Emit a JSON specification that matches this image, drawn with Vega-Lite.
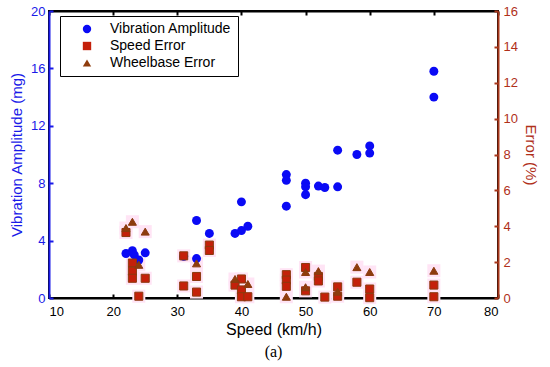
{
  "$schema": "https://vega.github.io/schema/vega-lite/v6.json",
  "width": 449,
  "height": 287,
  "autosize": {"type": "none"},
  "padding": {"left": 49, "top": 11, "right": 52, "bottom": 69},
  "background": "white",
  "config": {
    "font": "Liberation Sans",
    "view": {"stroke": "black", "strokeWidth": 2},
    "axis": {"grid": false, "labelFontSize": 13, "titleFontSize": 15, "titleFontWeight": "normal", "domainWidth": 2, "tickWidth": 2}
  },
  "title": {"text": "(a)", "orient": "bottom", "font": "Liberation Serif", "fontSize": 16, "fontWeight": "normal", "color": "black", "anchor": "middle", "offset": 7},
  "data": {
    "values": [
      {"speed": 22, "series": "Vibration Amplitude", "value": 3.1},
      {"speed": 23, "series": "Vibration Amplitude", "value": 3.3},
      {"speed": 23.3, "series": "Vibration Amplitude", "value": 3.0},
      {"speed": 24, "series": "Vibration Amplitude", "value": 2.65},
      {"speed": 25, "series": "Vibration Amplitude", "value": 3.15},
      {"speed": 31, "series": "Vibration Amplitude", "value": 2.9},
      {"speed": 33, "series": "Vibration Amplitude", "value": 5.4},
      {"speed": 33, "series": "Vibration Amplitude", "value": 2.75},
      {"speed": 35, "series": "Vibration Amplitude", "value": 4.5},
      {"speed": 39, "series": "Vibration Amplitude", "value": 4.5},
      {"speed": 40, "series": "Vibration Amplitude", "value": 4.7},
      {"speed": 40, "series": "Vibration Amplitude", "value": 6.7},
      {"speed": 41, "series": "Vibration Amplitude", "value": 5.0},
      {"speed": 47, "series": "Vibration Amplitude", "value": 8.6},
      {"speed": 47, "series": "Vibration Amplitude", "value": 8.2},
      {"speed": 47, "series": "Vibration Amplitude", "value": 6.4},
      {"speed": 50, "series": "Vibration Amplitude", "value": 8.0},
      {"speed": 50, "series": "Vibration Amplitude", "value": 7.75},
      {"speed": 50, "series": "Vibration Amplitude", "value": 7.2},
      {"speed": 52, "series": "Vibration Amplitude", "value": 7.8},
      {"speed": 53, "series": "Vibration Amplitude", "value": 7.7},
      {"speed": 55, "series": "Vibration Amplitude", "value": 7.75},
      {"speed": 55, "series": "Vibration Amplitude", "value": 10.3},
      {"speed": 58, "series": "Vibration Amplitude", "value": 10.0},
      {"speed": 60, "series": "Vibration Amplitude", "value": 10.6},
      {"speed": 60, "series": "Vibration Amplitude", "value": 10.1},
      {"speed": 70, "series": "Vibration Amplitude", "value": 15.8},
      {"speed": 70, "series": "Vibration Amplitude", "value": 14.0},

      {"speed": 22, "series": "Speed Error", "value": 3.65},
      {"speed": 23, "series": "Speed Error", "value": 1.95},
      {"speed": 23, "series": "Speed Error", "value": 1.5},
      {"speed": 23, "series": "Speed Error", "value": 1.1},
      {"speed": 24, "series": "Speed Error", "value": 0.1},
      {"speed": 25, "series": "Speed Error", "value": 1.1},
      {"speed": 31, "series": "Speed Error", "value": 2.35},
      {"speed": 31, "series": "Speed Error", "value": 0.67},
      {"speed": 33, "series": "Speed Error", "value": 1.2},
      {"speed": 33, "series": "Speed Error", "value": 0.33},
      {"speed": 35, "series": "Speed Error", "value": 2.95},
      {"speed": 35, "series": "Speed Error", "value": 2.65},
      {"speed": 40, "series": "Speed Error", "value": 1.06},
      {"speed": 39, "series": "Speed Error", "value": 0.72},
      {"speed": 40, "series": "Speed Error", "value": 0.45},
      {"speed": 40, "series": "Speed Error", "value": 0.07},
      {"speed": 41, "series": "Speed Error", "value": 0.07},
      {"speed": 47, "series": "Speed Error", "value": 1.3},
      {"speed": 47, "series": "Speed Error", "value": 1.0},
      {"speed": 47, "series": "Speed Error", "value": 0.65},
      {"speed": 50, "series": "Speed Error", "value": 1.7},
      {"speed": 50, "series": "Speed Error", "value": 0.4},
      {"speed": 52, "series": "Speed Error", "value": 1.2},
      {"speed": 52, "series": "Speed Error", "value": 0.95},
      {"speed": 53, "series": "Speed Error", "value": 0.05},
      {"speed": 55, "series": "Speed Error", "value": 0.62},
      {"speed": 55, "series": "Speed Error", "value": 0.1},
      {"speed": 58, "series": "Speed Error", "value": 0.88},
      {"speed": 60, "series": "Speed Error", "value": 0.5},
      {"speed": 60, "series": "Speed Error", "value": 0.02},
      {"speed": 70, "series": "Speed Error", "value": 0.72},
      {"speed": 70, "series": "Speed Error", "value": 0.07},

      {"speed": 22, "series": "Wheelbase Error", "value": 3.9},
      {"speed": 23, "series": "Wheelbase Error", "value": 4.25},
      {"speed": 25, "series": "Wheelbase Error", "value": 3.7},
      {"speed": 24, "series": "Wheelbase Error", "value": 1.85},
      {"speed": 33, "series": "Wheelbase Error", "value": 1.93},
      {"speed": 39, "series": "Wheelbase Error", "value": 1.06},
      {"speed": 41, "series": "Wheelbase Error", "value": 0.78},
      {"speed": 47, "series": "Wheelbase Error", "value": 0.07},
      {"speed": 50, "series": "Wheelbase Error", "value": 1.45},
      {"speed": 50, "series": "Wheelbase Error", "value": 0.6},
      {"speed": 52, "series": "Wheelbase Error", "value": 1.5},
      {"speed": 55, "series": "Wheelbase Error", "value": 0.35},
      {"speed": 58, "series": "Wheelbase Error", "value": 1.72},
      {"speed": 60, "series": "Wheelbase Error", "value": 1.45},
      {"speed": 70, "series": "Wheelbase Error", "value": 1.52}
    ]
  },
  "layer": [
    {
      "transform": [{"filter": "datum.series !== 'Vibration Amplitude'"}],
      "mark": {"type": "point", "filled": true, "shape": "square", "size": 170, "opacity": 1},
      "encoding": {
        "x": {"field": "speed", "type": "quantitative", "scale": {"domain": [10, 80], "nice": false}, "axis": null},
        "y": {"field": "value", "type": "quantitative", "scale": {"domain": [0, 16], "nice": false}, "axis": null},
        "color": {"value": "#ffe4f5"}
      }
    },
    {
      "transform": [{"filter": "datum.series === 'Vibration Amplitude'"}],
      "mark": {"type": "point", "filled": true, "size": 80, "opacity": 1},
      "encoding": {
        "x": {"field": "speed", "type": "quantitative", "scale": {"domain": [10, 80], "nice": false},
          "axis": {"orient": "bottom", "title": "Speed (km/h)", "titleFontSize": 16, "values": [10, 20, 30, 40, 50, 60, 70, 80], "domainColor": "black", "tickColor": "black", "labelColor": "black", "titleColor": "black", "tickSize": -4, "labelPadding": 11, "titlePadding": 3}},
        "y": {"field": "value", "type": "quantitative", "scale": {"domain": [0, 20], "nice": false},
          "axis": {"orient": "left", "title": "Vibration Amplitude (mg)", "values": [0, 4, 8, 12, 16, 20], "domainColor": "#1a1ae8", "tickColor": "#1a1ae8", "labelColor": "#1a1ae8", "titleColor": "#1a1ae8", "tickSize": -4, "labelPadding": 8, "titlePadding": 6}},
        "color": {"field": "series", "type": "nominal", "scale": {"domain": ["Vibration Amplitude", "Speed Error", "Wheelbase Error"], "range": ["#0a0af5", "#c4200a", "#8e3c0c"]},
          "legend": {"orient": "none", "legendX": 11, "legendY": 5, "title": null, "strokeColor": "black", "fillColor": "white", "padding": 6, "labelFontSize": 14, "labelColor": "black", "symbolSize": 70, "rowPadding": 3, "symbolOffset": 14, "labelOffset": 16, "symbolStrokeWidth": 0}},
        "shape": {"field": "series", "type": "nominal", "scale": {"domain": ["Vibration Amplitude", "Speed Error", "Wheelbase Error"], "range": ["circle", "square", "triangle-up"]}}
      }
    },
    {
      "transform": [{"filter": "datum.series !== 'Vibration Amplitude'"}],
      "mark": {"type": "point", "filled": true, "size": 65, "opacity": 1, "stroke": "#8b3a0f", "strokeWidth": 1},
      "encoding": {
        "x": {"field": "speed", "type": "quantitative", "scale": {"domain": [10, 80], "nice": false},
          "axis": {"orient": "top", "title": null, "labels": false, "values": [10, 20, 30, 40, 50, 60, 70, 80], "domainColor": "black", "tickColor": "black", "tickSize": -4}},
        "y": {"field": "value", "type": "quantitative", "scale": {"domain": [0, 16], "nice": false},
          "axis": {"orient": "right", "title": "Error (%)", "values": [0, 2, 4, 6, 8, 10, 12, 14, 16], "domainColor": "#a8361a", "tickColor": "#a8361a", "labelColor": "#b0301a", "titleColor": "#b0301a", "tickSize": -4, "labelPadding": 9, "titlePadding": 5}},
        "color": {"field": "series", "type": "nominal"},
        "shape": {"field": "series", "type": "nominal"}
      }
    }
  ],
  "resolve": {"scale": {"y": "independent"}, "axis": {"x": "independent"}}
}
